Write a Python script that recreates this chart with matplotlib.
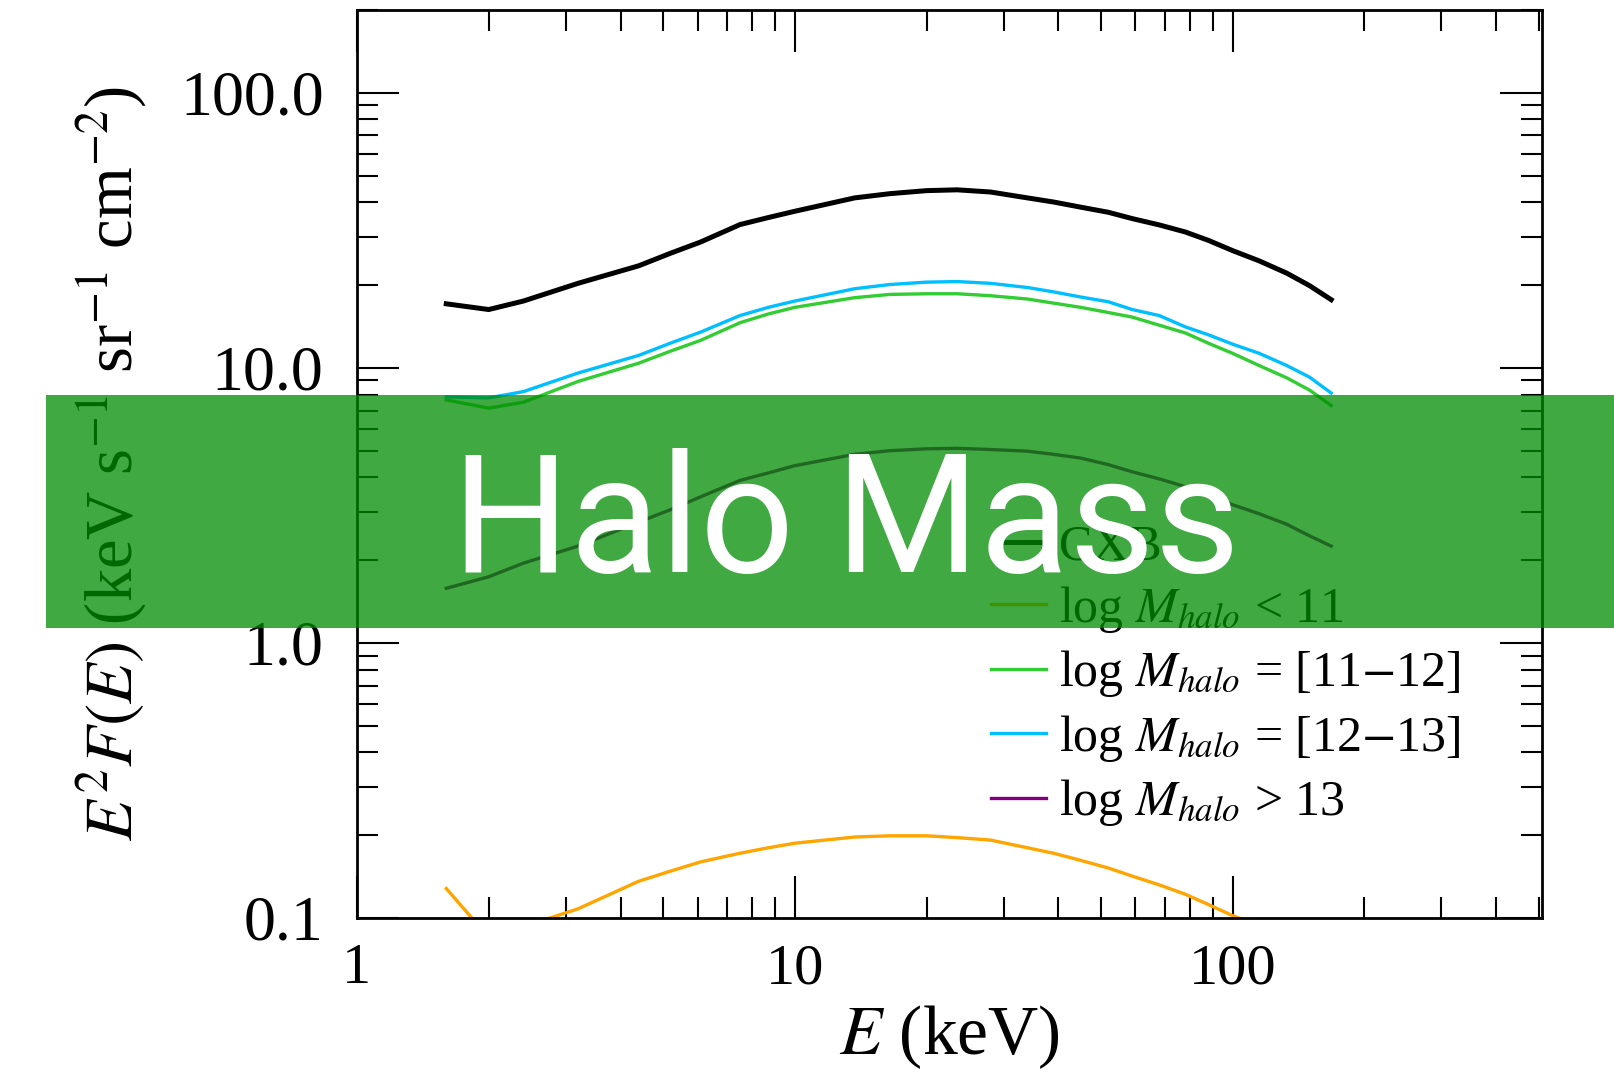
import numpy as np
import matplotlib
matplotlib.use('Agg')
import matplotlib.pyplot as plt
from matplotlib.patches import Rectangle
from matplotlib.ticker import FormatStrFormatter, NullFormatter, LogLocator

plt.rcParams['font.family'] = ['Liberation Serif', 'DejaVu Serif']
plt.rcParams['mathtext.fontset'] = 'stix'

# E^2 F(E) spectra, keV s^-1 sr^-1 cm^-2
energy = [1.6, 2.0, 2.4, 3.2, 4.4, 5.2, 6.1, 7.5, 8.7, 10, 13.7, 16.5, 20, 23.5, 28, 34, 39,
          45, 52, 59, 68, 78, 88, 100, 115, 133, 150, 168]
cxb = [17.1, 16.3, 17.5, 20.3, 23.5, 26.1, 28.7, 33.2, 35.2, 37.1, 41.5, 43.0, 44.1, 44.4, 43.6, 41.5, 40.1,
       38.4, 36.8, 34.9, 33.1, 31.2, 29.1, 26.7, 24.5, 22.1, 19.9, 17.7]
m_lt11 = [0.128, 0.085, 0.093, 0.108, 0.136, 0.148, 0.16, 0.172, 0.18, 0.187, 0.197, 0.199, 0.199, 0.196, 0.192, 0.18, 0.172,
          0.162, 0.152, 0.142, 0.132, 0.122, 0.112, 0.102, 0.094, 0.085, 0.077, 0.07]
m_11_12 = [7.65, 7.14, 7.5, 8.93, 10.4, 11.5, 12.6, 14.6, 15.7, 16.6, 18.0, 18.5, 18.6, 18.6, 18.3, 17.8, 17.2,
           16.6, 15.9, 15.3, 14.3, 13.4, 12.3, 11.3, 10.2, 9.2, 8.3, 7.3]
m_12_13 = [7.85, 7.78, 8.2, 9.58, 11.1, 12.3, 13.5, 15.5, 16.6, 17.5, 19.4, 20.1, 20.5, 20.6, 20.3, 19.6, 18.9,
           18.1, 17.4, 16.3, 15.5, 14.1, 13.2, 12.2, 11.3, 10.2, 9.25, 8.1]
m_gt13 = [1.58, 1.74, 1.95, 2.25, 2.75, 3.05, 3.4, 3.9, 4.15, 4.41, 4.85, 5.0, 5.08, 5.1, 5.05, 4.98, 4.85,
          4.7, 4.45, 4.19, 3.95, 3.7, 3.45, 3.18, 2.95, 2.7, 2.45, 2.25]

fig = plt.figure(figsize=(16.15, 10.8), dpi=100)
ax = fig.add_axes([0.221, 0.15, 0.734, 0.8407])

ax.plot(energy, cxb, color='black', lw=3.6, label='CXB')
ax.plot(energy, m_lt11, color='orange', lw=2.4, label=r'log $M_{halo}$ < 11')
ax.plot(energy, m_11_12, color='limegreen', lw=2.4, label=r'log $M_{halo}$ = [11$-$12]')
ax.plot(energy, m_12_13, color='deepskyblue', lw=2.4, label=r'log $M_{halo}$ = [12$-$13]')
ax.plot(energy, m_gt13, color='purple', lw=2.4, label=r'log $M_{halo}$ > 13')

ax.set_xscale('log')
ax.set_yscale('log')
ax.set_xlim(1, 510)
ax.set_ylim(0.1, 200)

ax.yaxis.set_major_locator(LogLocator(base=10, numticks=10))
ax.yaxis.set_major_formatter(FormatStrFormatter('%.1f'))
ax.yaxis.set_minor_formatter(NullFormatter())
ax.xaxis.set_major_formatter(FormatStrFormatter('%d'))
ax.xaxis.set_minor_formatter(NullFormatter())

ax.tick_params(which='both', direction='in', top=True, right=True, width=1.5)
ax.tick_params(which='major', length=30)
ax.tick_params(which='minor', length=15)
ax.tick_params(axis='x', labelsize=42, pad=18)
ax.tick_params(axis='y', labelsize=46, pad=24)
for s in ax.spines.values():
    s.set_linewidth(2)

ax.set_xlabel(r'$E$ (keV)', fontsize=50, labelpad=6)
ax.set_ylabel(r'$E^2F(E)$ (keV s$^{-1}$ sr$^{-1}$ cm$^{-2}$)', fontsize=48, labelpad=22)

ax.legend(loc='upper left', bbox_to_anchor=(0.535, 0.434), frameon=False,
          fontsize=36, handlelength=1.1, handletextpad=0.25, labelspacing=0.27,
          borderpad=0, borderaxespad=0)

# banner across the middle
fig.add_artist(Rectangle((0.0285, 0.4185), 0.9715, 0.2157, transform=fig.transFigure,
                         facecolor=(0.0, 0.55, 0.01), alpha=0.75, edgecolor='none', zorder=10))
fig.text(0.524, 0.512, 'Halo Mass', color='white', fontsize=119, family='Roboto',
         fontweight='normal', ha='center', va='center', zorder=11)

fig.savefig('out.png', dpi=100)
